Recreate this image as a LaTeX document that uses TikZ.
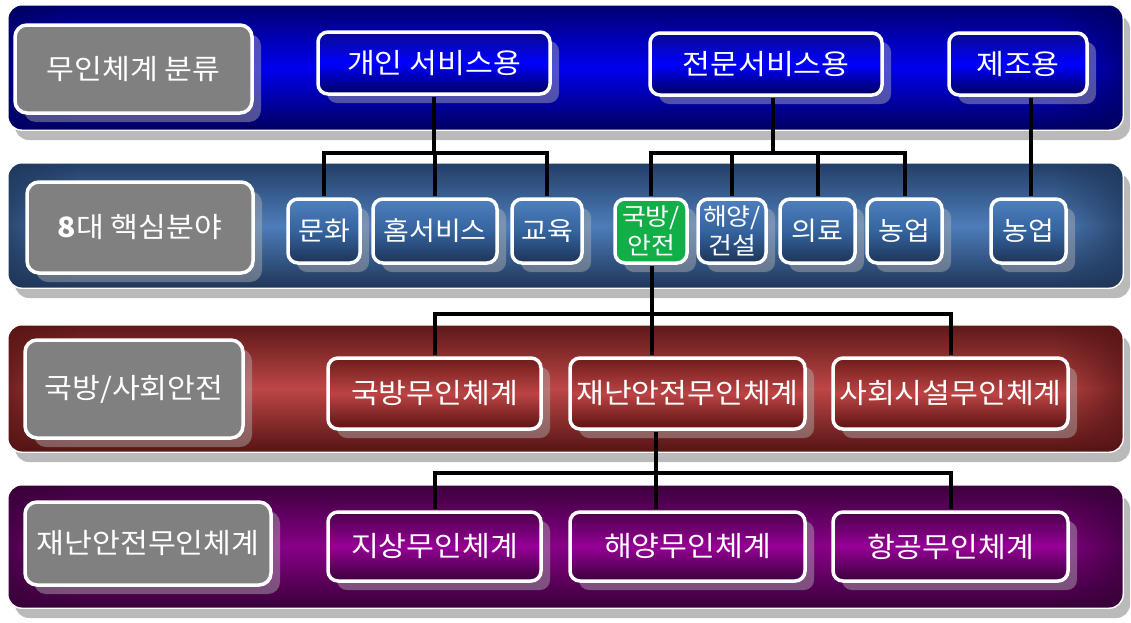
\documentclass[tikz,border=0pt]{standalone}
\usepackage{fontspec}
\newfontfamily\kr{Noto Sans CJK KR}[FakeStretch=1.08]
\usetikzlibrary{shadows,fadings}
\tikzfading[name=fadeleft, left color=transparent!0, right color=transparent!100]
\tikzfading[name=faderight, left color=transparent!100, right color=transparent!0]
\definecolor{bAt}{HTML}{000070}\definecolor{bAm}{HTML}{0000F0}\definecolor{bAb}{HTML}{000060}
\definecolor{bBt}{HTML}{233E66}\definecolor{bBm}{HTML}{4D7DBA}\definecolor{bBb}{HTML}{1F3659}
\definecolor{bCt}{HTML}{5E1818}\definecolor{bCm}{HTML}{BE4646}\definecolor{bCb}{HTML}{561414}
\definecolor{bDt}{HTML}{3C003C}\definecolor{bDm}{HTML}{880088}\definecolor{bDb}{HTML}{380038}
\definecolor{xAt}{HTML}{0A0A90}\definecolor{xAm}{HTML}{0000FF}\definecolor{xAb}{HTML}{00005C}
\definecolor{xBt}{HTML}{4F80BE}\definecolor{xBm}{HTML}{34639E}\definecolor{xBb}{HTML}{1E3456}
\definecolor{xCt}{HTML}{6E1C1C}\definecolor{xCm}{HTML}{BC4444}\definecolor{xCb}{HTML}{5A1212}
\definecolor{xDt}{HTML}{4C004C}\definecolor{xDm}{HTML}{960096}\definecolor{xDb}{HTML}{3A003A}
\definecolor{greenbox}{HTML}{12AE48}
\definecolor{labelgray}{HTML}{808080}
\newcommand\mybandside[2]{%
  \begin{scope}
    \clip[rounded corners=14pt] (#1.south west) rectangle (#1.north east);
    \fill[#2, opacity=.75, path fading=fadeleft] (#1.south west) rectangle ([xshift=70pt]#1.north west);
    \fill[#2, opacity=.75, path fading=faderight] ([xshift=-70pt]#1.south east) rectangle (#1.north east);
  \end{scope}
  \draw[white, line width=1.4pt, rounded corners=14pt] (#1.south west) rectangle (#1.north east);
}
\tikzset{
  band/.style={rounded corners=14pt, inner sep=0pt, minimum width=1115pt,
    drop shadow={shadow xshift=7pt, shadow yshift=-10pt, fill=black!27, opacity=1}},
  boxshadow/.style={drop shadow={shadow xshift=9pt, shadow yshift=-9pt, fill=black!30, opacity=.45}},
  lbl/.style={draw=white, line width=3.5pt, rounded corners=12pt, fill=labelgray, text=white,
    inner sep=0pt, font={\kr\fontsize{28}{32}\selectfont}, boxshadow},
  boxbase/.style={draw=white, line width=3.5pt, rounded corners=10pt, text=white, inner sep=0pt, boxshadow},
  rowA/.style={boxbase, top color=xAt, bottom color=xAb, middle color=xAm, font={\kr\fontsize{28}{32}\selectfont},
    minimum height=62pt},
  rowB/.style={boxbase, top color=xBt, bottom color=xBb, middle color=xBm, font={\kr\fontsize{26}{30}\selectfont},
    minimum height=64pt},
  rowBtwo/.style={rowB, align=center, font={\kr\fontsize{24}{29}\selectfont}},
  greenB/.style={boxbase, fill=greenbox, minimum height=64pt, align=center, font={\kr\fontsize{24}{29}\selectfont}},
  rowC/.style={boxbase, top color=xCt, bottom color=xCb, middle color=xCm, font={\kr\fontsize{28}{32}\selectfont},
    minimum height=71pt},
  rowD/.style={boxbase, top color=xDt, bottom color=xDb, middle color=xDm, font={\kr\fontsize{28}{32}\selectfont},
    minimum height=69pt},
  conn/.style={black, line width=4pt, shorten <=1.5pt, shorten >=1.5pt},
}
\begin{document}
\begin{tikzpicture}[x=1pt, y=-1pt]
\useasboundingbox (0,0) rectangle (1131,622);
\fill[white] (0,0) rectangle (1131,622);

% bands
\node[band, minimum height=125pt, top color=bAt, bottom color=bAb, middle color=bAm] (b1) at (565.5,67.5) {};
\mybandside{b1}{bAb}
\node[band, minimum height=125pt, top color=bBt, bottom color=bBb, middle color=bBm] (b2) at (565.5,225.5) {};
\mybandside{b2}{bBb}
\node[band, minimum height=127pt, top color=bCt, bottom color=bCb, middle color=bCm] (b3) at (565.5,388.5) {};
\mybandside{b3}{bCb}
\node[band, minimum height=123pt, top color=bDt, bottom color=bDb, middle color=bDm] (b4) at (565.5,546.5) {};
\mybandside{b4}{bDb}

% row labels
\node[lbl, minimum width=237pt, minimum height=88pt] (L1) at (133.5,69) {무인체계 분류};
\node[lbl, minimum width=226pt, minimum height=91pt] (L2) at (140,227.5) {\textbf{8}대 핵심분야};
\node[lbl, minimum width=218pt, minimum height=98pt] (L3) at (134,389) {국방/사회안전};
\node[lbl, minimum width=246pt, minimum height=83pt] (L4) at (148,543.5) {재난안전무인체계};

% row 1
\node[rowA, minimum width=232pt] (p1) at (434,63) {개인 서비스용};
\node[rowA, minimum width=232pt] (p2) at (766,64) {전문서비스용};
\node[rowA, minimum width=138pt] (p3) at (1018,64) {제조용};

% row 2
\node[rowB, minimum width=72pt] (c1) at (324,231) {문화};
\node[rowB, minimum width=124pt] (c2) at (435,231) {홈서비스};
\node[rowB, minimum width=70pt] (c3) at (547,231) {교육};
\node[greenB, minimum width=72pt] (c4) at (651,231) {국방/\\안전};
\node[rowBtwo, minimum width=68pt] (c5) at (732,231) {해양/\\건설};
\node[rowB, minimum width=75pt] (c6) at (817.5,231) {의료};
\node[rowB, minimum width=75pt] (c7) at (904.5,231) {농업};
\node[rowB, minimum width=75pt] (c8) at (1028.5,231) {농업};

% row 3
\node[rowC, minimum width=213pt] (d1) at (434.5,393.5) {국방무인체계};
\node[rowC, minimum width=235pt] (d2) at (687.5,393.5) {재난안전무인체계};
\node[rowC, minimum width=235pt] (d3) at (950.5,393.5) {사회시설무인체계};

% row 4
\node[rowD, minimum width=213pt] (e1) at (434.5,546.5) {지상무인체계};
\node[rowD, minimum width=235pt] (e2) at (687.5,546.5) {해양무인체계};
\node[rowD, minimum width=235pt] (e3) at (950.5,546.5) {항공무인체계};

% bus levels
\coordinate (busA) at (0,153);
\coordinate (busC) at (0,314);
\coordinate (busD) at (0,473);

% connectors
\draw[conn] (p1.south) -- (p1.south |- busA) -| (c1.north);
\draw[conn] (p1.south) -- (p1.south |- busA) -| (c3.north);
\draw[conn] (c2.north) -- (c2.north |- busA);
\draw[conn] ([xshift=7pt]p2.south) -- ([xshift=7pt]p2.south |- busA) -| (c4.north);
\draw[conn] ([xshift=7pt]p2.south) -- ([xshift=7pt]p2.south |- busA) -| (c7.north);
\draw[conn] (c5.north) -- (c5.north |- busA);
\draw[conn] (c6.north) -- (c6.north |- busA);
\draw[conn] ([xshift=2pt]c8.north) -- ([xshift=2pt]c8.north |- p3.south);
\draw[conn] (d1.north) -- (d1.north |- busC) -- (d3.north |- busC) -- (d3.north);
\draw[conn] ([xshift=1pt]c4.south) -- ([xshift=1pt]c4.south |- d2.north);
\draw[conn] (e1.north) -- (e1.north |- busD) -- (e3.north |- busD) -- (e3.north);
\draw[conn] ([xshift=-32pt]d2.south) -- ([xshift=-32pt]e2.north);
\end{tikzpicture}
\end{document}
